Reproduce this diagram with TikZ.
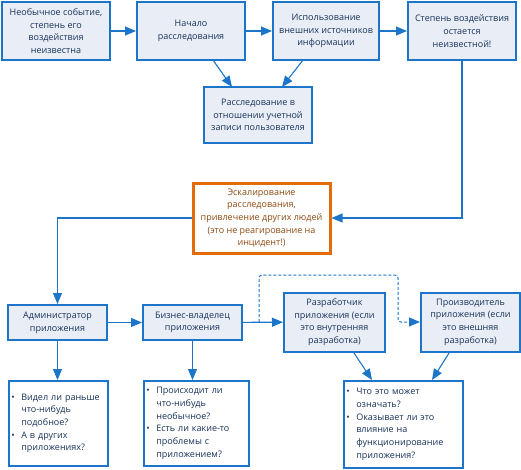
\documentclass[tikz,border=0pt]{standalone}
\usepackage{fontspec}
\setmainfont{Open Sans}
\usepackage{xcolor}
\usetikzlibrary{arrows.meta}

\definecolor{lineblue}{HTML}{1C75C8}
\definecolor{boxfill}{HTML}{E9EEF6}
\definecolor{textnavy}{HTML}{17325A}
\definecolor{escorange}{HTML}{E36C0A}
\definecolor{esctext}{HTML}{8E4A12}

\newcommand{\qi}{\makebox[10pt][l]{\textbullet}}
\newcommand{\qc}{\hspace*{10pt}}

\begin{document}
\begin{tikzpicture}[
    x=1pt, y=-1pt,
    box/.style={draw=lineblue, line width=2pt, fill=boxfill,
                font=\fontsize{9}{12.7}\selectfont, text=textnavy,
                align=center, inner sep=1pt},
    esc/.style={draw=escorange, line width=3pt, fill=white,
                font=\fontsize{9}{12.7}\selectfont, text=esctext,
                align=center, inner sep=1pt},
    qbox/.style={draw=lineblue, line width=1.6pt, fill=white,
                 font=\fontsize{9}{12.7}\selectfont, text=textnavy,
                 align=left, anchor=north west, inner sep=1.5pt},
    arr/.style={-{Triangle[length=11pt, width=9pt]}, draw=lineblue,
                line width=1.1pt},
    darr/.style={-{Triangle[length=11pt, width=9pt]}, draw=lineblue,
                 line width=1pt, densely dashed, rounded corners=3pt}
]
\useasboundingbox (0,0) rectangle (521,469);

% ── Top row ──
\node[box, minimum width=108pt, minimum height=58pt] (event) at (56,31)
  {Необычное событие,\\степень его\\воздействия\\неизвестна};
\node[box, minimum width=108pt, minimum height=58pt] (start) at (191,31)
  {Начало\\расследования};
\node[box, minimum width=106pt, minimum height=58pt] (extsrc) at (326,31)
  {Использование\\внешних источников\\информации};
\node[box, minimum width=108pt, minimum height=58pt] (unknown) at (462,31)
  {Степень воздействия\\остается\\неизвестной!};

\draw[arr] (event) -- (start);
\draw[arr] (start) -- (extsrc);
\draw[arr] (extsrc) -- (unknown);

% ── Account investigation ──
\node[box, minimum width=108pt, minimum height=56pt] (account) at (258,115)
  {Расследование в\\отношении учетной\\записи пользователя};
\draw[arr] (213,60) -- (232,87);
\draw[arr] (303,60) -- (282,87);

% ── Escalation ──
\node[esc, minimum width=137pt, minimum height=70pt] (escal) at (261.5,218)
  {Эскалирование\\расследования,\\привлечение других людей\\(это не реагирование на\\инцидент!)};
\draw[arr] (unknown.south) |- (escal.east);

% ── Application roles ──
\node[box, minimum width=99pt, minimum height=35pt] (admin) at (57.5,322.5)
  {Администратор\\приложения};
\node[box, minimum width=99pt, minimum height=35pt] (owner) at (192.5,322.5)
  {Бизнес-владелец\\приложения};
\node[box, minimum width=101pt, minimum height=59pt] (dev) at (334.5,322)
  {Разработчик\\приложения (если\\это внутренняя\\разработка)};
\node[box, minimum width=99pt, minimum height=59pt] (vendor) at (470.5,322)
  {Производитель\\приложения (если\\это внешняя\\разработка)};

\draw[arr] (escal.west) -| (admin.north);
\draw[arr] (admin) -- (owner);
\draw[arr] (owner) -- (dev);
\coordinate (split) at (259,322);
\draw[darr] (split) -- (259,275) -- (398,275) -- (398,322) -- (vendor.west);

% ── Questions ──
\node[qbox, minimum width=99pt, minimum height=85pt, text width=94pt] (qadmin) at (8,380)
  {\qi Видел ли раньше\\\qc что-нибудь\\\qc подобное?\\\qi А в других\\\qc приложениях?};
\node[qbox, minimum width=105pt, minimum height=85pt, text width=100pt] (qowner) at (143,380)
  {\qi Происходит ли\\\qc что-нибудь\\\qc необычное?\\\qi Есть ли какие-то\\\qc проблемы с\\\qc приложением?};
\node[qbox, minimum width=119pt, minimum height=87pt, text width=114pt] (qdev) at (343,380)
  {\qi Что это может\\\qc означать?\\\qi Оказывает ли это\\\qc влияние на\\\qc функционирование\\\qc приложения?};

\draw[arr] (admin.south) -- (qadmin.north -| admin.south);
\draw[arr] (owner.south) -- (qowner.north -| owner.south);
\draw[arr] (353,351.5) -- (372,380);
\draw[arr] (450,351.5) -- (432,380);

\end{tikzpicture}
\end{document}
